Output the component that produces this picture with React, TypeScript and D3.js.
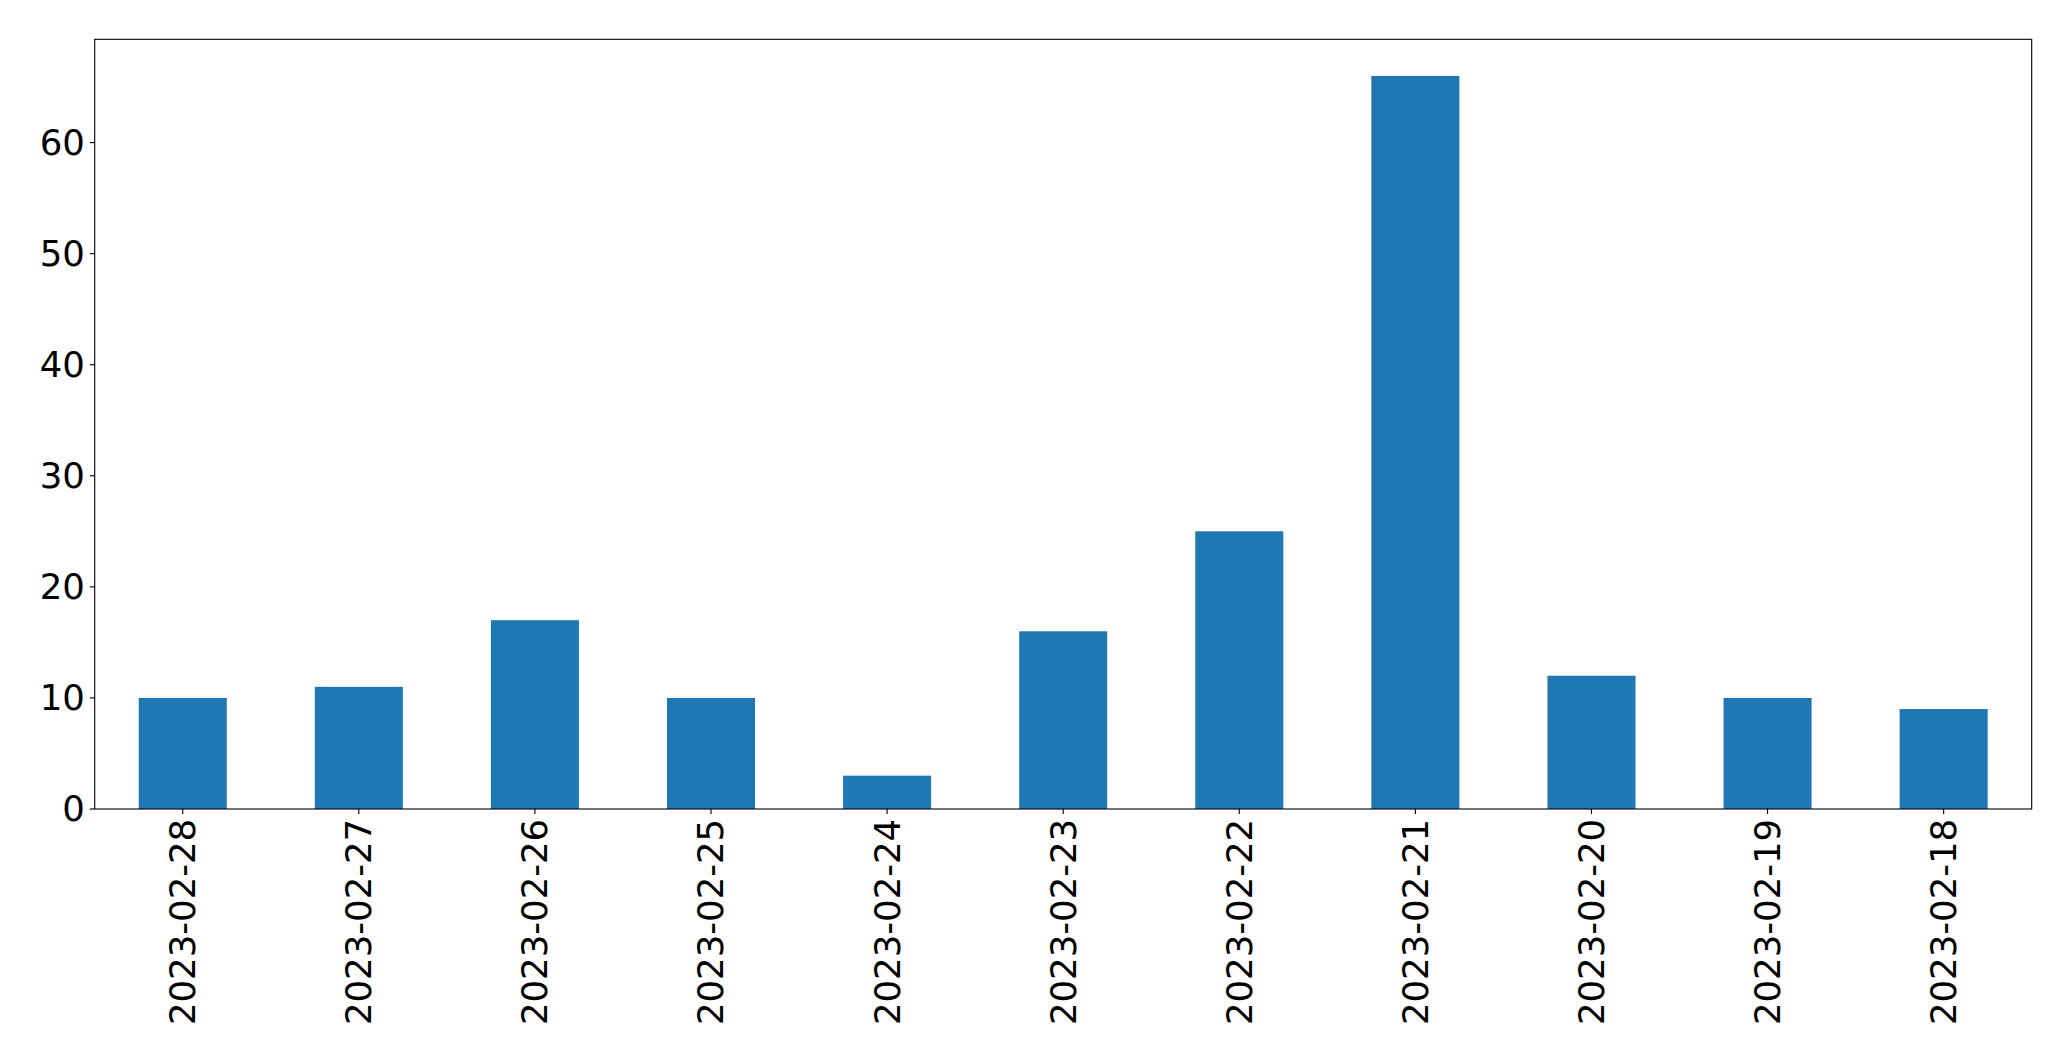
import React from "react";
import * as d3 from "d3";

const categories = [
  "2023-02-28", "2023-02-27", "2023-02-26", "2023-02-25", "2023-02-24", "2023-02-23",
  "2023-02-22", "2023-02-21", "2023-02-20", "2023-02-19", "2023-02-18",
];
const values = [10, 11, 17, 10, 3, 16, 25, 66, 12, 10, 9];
const yTicks = [0, 10, 20, 30, 40, 50, 60];

const W = 2071;
const H = 1061;
const margin = { left: 94.7, right: W - 2031.7, top: 39.3, bottom: H - 809 };
const FONT = "'DejaVu Sans', sans-serif";
const FS = 35.5;

export default function App() {
  const pw = W - margin.left - margin.right;
  const ph = H - margin.top - margin.bottom;
  const x = d3.scaleBand<string>().domain(categories).range([0, pw]).paddingInner(0.5).paddingOuter(0.25);
  const ymax = d3.max(values)! * 1.05;
  const y = d3.scaleLinear().domain([0, ymax]).range([ph, 0]);
  const tickLen = 4.9;
  const pad = 4.9;
  return (
    <svg width={W} height={H} style={{ position: "absolute", left: 0, top: 0, background: "#fff" }}>
      <g transform={`translate(${margin.left},${margin.top})`}>
        {values.map((v, i) => (
          <rect
            key={categories[i]}
            x={x(categories[i])}
            y={y(v)}
            width={x.bandwidth()}
            height={ph - y(v)}
            fill="#1f77b4"
          />
        ))}
        <rect x={0} y={0} width={pw} height={ph} fill="none" stroke="#000" strokeWidth={1.1} />
        {yTicks.map((t) => (
          <g key={t} transform={`translate(0,${y(t)})`}>
            <line x1={-tickLen} x2={0} stroke="#000" strokeWidth={1.1} />
            <text
              x={-tickLen - pad}
              dy="0.35em"
              textAnchor="end"
              fontFamily={FONT}
              fontSize={FS}
              fill="#000"
            >
              {t}
            </text>
          </g>
        ))}
        {categories.map((c) => {
          const cx = x(c)! + x.bandwidth() / 2;
          return (
            <g key={c} transform={`translate(${cx},${ph})`}>
              <line y1={0} y2={tickLen} stroke="#000" strokeWidth={1.1} />
              <text
                transform={`translate(0,${tickLen + pad}) rotate(-90)`}
                dy="0.35em"
                textAnchor="end"
                fontFamily={FONT}
                fontSize={FS}
                fill="#000"
              >
                {c}
              </text>
            </g>
          );
        })}
      </g>
    </svg>
  );
}
